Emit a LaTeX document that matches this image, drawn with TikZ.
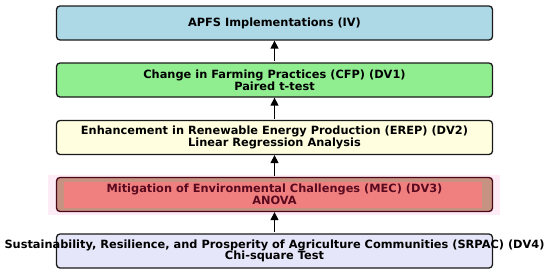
\documentclass[tikz,border=0pt]{standalone}
\usepackage{fontspec}
\setmainfont{DejaVu Sans}
\usetikzlibrary{arrows.meta}
\definecolor{cIV}{HTML}{ADD8E6}
\definecolor{cDVa}{HTML}{90EE90}
\definecolor{cDVb}{HTML}{FFFFE0}
\definecolor{cDVc}{HTML}{F08080}
\definecolor{cDVcedge}{HTML}{C69282}
\definecolor{cDVchalo}{HTML}{FDEBF5}
\definecolor{cDVctext}{HTML}{5A0A1E}
\definecolor{cDVd}{HTML}{E6E6FA}
\definecolor{edgecol}{HTML}{1A1A1A}
\begin{document}
\begin{tikzpicture}[x=1bp,y=-1bp,
  stagebox/.style={draw=edgecol,line width=1.3bp,rounded corners=3.5bp,minimum width=436bp,minimum height=34bp,inner sep=0pt},
  stagetext/.style={font=\fontsize{11.4}{11.6}\selectfont\bfseries,align=center,text=black},
  flowarrow/.style={draw=black,line width=1.4bp,-{Triangle[length=8bp,width=8bp]}}]
\useasboundingbox (0,0) rectangle (550,275);
% halo behind MEC box
\fill[cDVchalo] (48,175) rectangle (500,215);
\node[stagebox,fill=cIV] (b1) at (274.5,23) {};
\node[stagebox,fill=cDVa] (b2) at (274.5,80) {};
\node[stagebox,fill=cDVb] (b3) at (274.5,137.5) {};
\node[stagebox,fill=cDVcedge,draw=cDVctext!80!black] (b4) at (274.5,194.5) {};
\fill[cDVc] (64,182) rectangle (482,208);
\node[stagebox,fill=cDVd] (b5) at (274.5,251) {};
\node[stagetext] (t1) at (b1) {APFS Implementations (IV)};
\node[stagetext] (t2) at (b2) {Change in Farming Practices (CFP) (DV1)\\Paired t-test};
\node[stagetext] (t3) at (b3) {Enhancement in Renewable Energy Production (EREP) (DV2)\\Linear Regression Analysis};
\node[stagetext,text=cDVctext] (t4) at (b4) {Mitigation of Environmental Challenges (MEC) (DV3)\\ANOVA};
\node[stagetext] (t5) at (b5) {Sustainability, Resilience, and Prosperity of Agriculture Communities (SRPAC) (DV4)\\Chi-square Test};
\draw[flowarrow] ([yshift=1bp]b2.north) -- (b1.south);
\draw[flowarrow] ([yshift=1bp]b3.north) -- (b2.south);
\draw[flowarrow] ([yshift=1bp]b4.north) -- (b3.south);
\draw[flowarrow] ([yshift=1bp]b5.north) -- (b4.south);
\end{tikzpicture}
\end{document}
